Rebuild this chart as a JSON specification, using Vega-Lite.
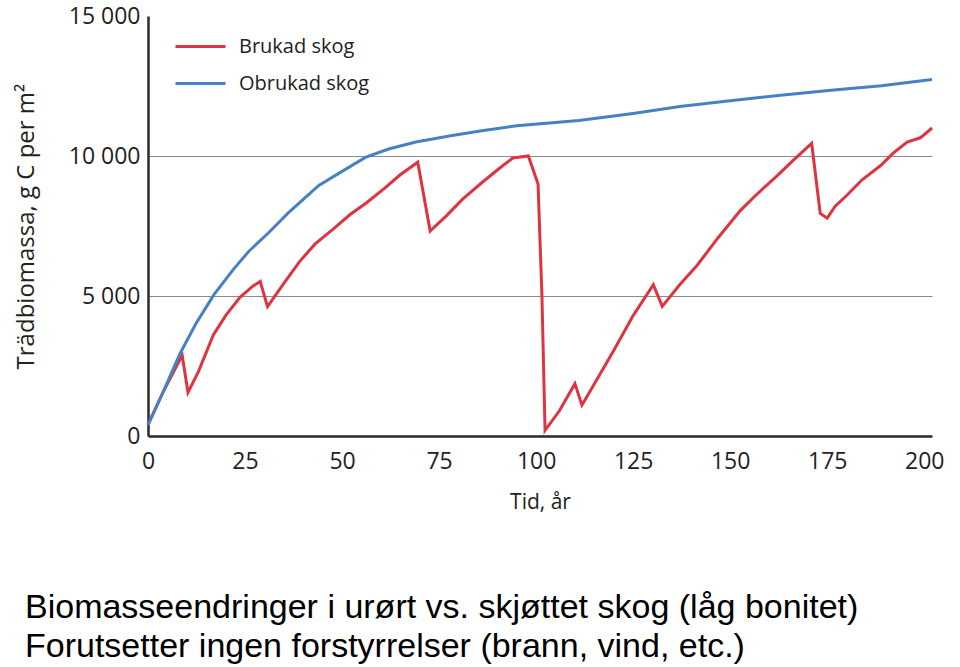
{
  "$schema": "https://vega.github.io/schema/vega-lite/v6.json",
  "autosize": {"type": "none"},
  "padding": {"left": 148, "top": 16, "right": 28, "bottom": 231},
  "width": 784,
  "height": 420,
  "background": "white",
  "title": {
    "text": ["Biomasseendringer i urørt vs. skjøttet skog (låg bonitet)", "Forutsetter ingen forstyrrelser (brann, vind, etc.)"],
    "orient": "bottom",
    "anchor": "start",
    "frame": "group",
    "dx": -123,
    "offset": 79,
    "font": "Liberation Sans",
    "fontSize": 34,
    "fontWeight": "normal",
    "lineHeight": 39,
    "color": "#000000"
  },
  "config": {
    "view": {"stroke": null},
    "font": "Open Sans"
  },
  "data": {
    "values": [
      {"t": 0, "v": 400, "s": "Brukad skog"},
      {"t": 4, "v": 1600, "s": "Brukad skog"},
      {"t": 8.8, "v": 2880, "s": "Brukad skog"},
      {"t": 10.3, "v": 1560, "s": "Brukad skog"},
      {"t": 13, "v": 2300, "s": "Brukad skog"},
      {"t": 16.8, "v": 3600, "s": "Brukad skog"},
      {"t": 20, "v": 4300, "s": "Brukad skog"},
      {"t": 23.7, "v": 4950, "s": "Brukad skog"},
      {"t": 27, "v": 5350, "s": "Brukad skog"},
      {"t": 28.9, "v": 5520, "s": "Brukad skog"},
      {"t": 30.8, "v": 4620, "s": "Brukad skog"},
      {"t": 35, "v": 5450, "s": "Brukad skog"},
      {"t": 39, "v": 6220, "s": "Brukad skog"},
      {"t": 43, "v": 6850, "s": "Brukad skog"},
      {"t": 47.7, "v": 7390, "s": "Brukad skog"},
      {"t": 52, "v": 7900, "s": "Brukad skog"},
      {"t": 56.4, "v": 8340, "s": "Brukad skog"},
      {"t": 61, "v": 8850, "s": "Brukad skog"},
      {"t": 65, "v": 9330, "s": "Brukad skog"},
      {"t": 69.5, "v": 9780, "s": "Brukad skog"},
      {"t": 72.7, "v": 7320, "s": "Brukad skog"},
      {"t": 77, "v": 7880, "s": "Brukad skog"},
      {"t": 81, "v": 8450, "s": "Brukad skog"},
      {"t": 85.6, "v": 9000, "s": "Brukad skog"},
      {"t": 90, "v": 9500, "s": "Brukad skog"},
      {"t": 94, "v": 9930, "s": "Brukad skog"},
      {"t": 98, "v": 10000, "s": "Brukad skog"},
      {"t": 100.5, "v": 9000, "s": "Brukad skog"},
      {"t": 101.5, "v": 5000, "s": "Brukad skog"},
      {"t": 102.3, "v": 200, "s": "Brukad skog"},
      {"t": 106, "v": 900, "s": "Brukad skog"},
      {"t": 110, "v": 1870, "s": "Brukad skog"},
      {"t": 111.8, "v": 1100, "s": "Brukad skog"},
      {"t": 116, "v": 2100, "s": "Brukad skog"},
      {"t": 120, "v": 3050, "s": "Brukad skog"},
      {"t": 125, "v": 4300, "s": "Brukad skog"},
      {"t": 130.2, "v": 5400, "s": "Brukad skog"},
      {"t": 132.5, "v": 4630, "s": "Brukad skog"},
      {"t": 137, "v": 5400, "s": "Brukad skog"},
      {"t": 141.5, "v": 6100, "s": "Brukad skog"},
      {"t": 147, "v": 7100, "s": "Brukad skog"},
      {"t": 152.6, "v": 8050, "s": "Brukad skog"},
      {"t": 157, "v": 8650, "s": "Brukad skog"},
      {"t": 162, "v": 9280, "s": "Brukad skog"},
      {"t": 166.5, "v": 9880, "s": "Brukad skog"},
      {"t": 171, "v": 10450, "s": "Brukad skog"},
      {"t": 173.2, "v": 7950, "s": "Brukad skog"},
      {"t": 175, "v": 7780, "s": "Brukad skog"},
      {"t": 177, "v": 8200, "s": "Brukad skog"},
      {"t": 180, "v": 8590, "s": "Brukad skog"},
      {"t": 184, "v": 9150, "s": "Brukad skog"},
      {"t": 188.7, "v": 9650, "s": "Brukad skog"},
      {"t": 192, "v": 10100, "s": "Brukad skog"},
      {"t": 195.6, "v": 10500, "s": "Brukad skog"},
      {"t": 199, "v": 10650, "s": "Brukad skog"},
      {"t": 202, "v": 11000, "s": "Brukad skog"},
      {"t": 0, "v": 400, "s": "Obrukad skog"},
      {"t": 4, "v": 1600, "s": "Obrukad skog"},
      {"t": 8.2, "v": 2930, "s": "Obrukad skog"},
      {"t": 12.5, "v": 4050, "s": "Obrukad skog"},
      {"t": 17, "v": 5050, "s": "Obrukad skog"},
      {"t": 22, "v": 5950, "s": "Obrukad skog"},
      {"t": 26, "v": 6600, "s": "Obrukad skog"},
      {"t": 31, "v": 7250, "s": "Obrukad skog"},
      {"t": 36, "v": 7950, "s": "Obrukad skog"},
      {"t": 40, "v": 8450, "s": "Obrukad skog"},
      {"t": 44, "v": 8950, "s": "Obrukad skog"},
      {"t": 50, "v": 9450, "s": "Obrukad skog"},
      {"t": 56, "v": 9950, "s": "Obrukad skog"},
      {"t": 62, "v": 10250, "s": "Obrukad skog"},
      {"t": 69, "v": 10500, "s": "Obrukad skog"},
      {"t": 78, "v": 10720, "s": "Obrukad skog"},
      {"t": 86, "v": 10900, "s": "Obrukad skog"},
      {"t": 95, "v": 11080, "s": "Obrukad skog"},
      {"t": 111, "v": 11270, "s": "Obrukad skog"},
      {"t": 125, "v": 11520, "s": "Obrukad skog"},
      {"t": 137, "v": 11770, "s": "Obrukad skog"},
      {"t": 150, "v": 11970, "s": "Obrukad skog"},
      {"t": 163, "v": 12170, "s": "Obrukad skog"},
      {"t": 176, "v": 12350, "s": "Obrukad skog"},
      {"t": 189, "v": 12510, "s": "Obrukad skog"},
      {"t": 202, "v": 12730, "s": "Obrukad skog"}
    ]
  },
  "mark": {"type": "line", "strokeWidth": 3},
  "encoding": {
    "x": {
      "field": "t",
      "type": "quantitative",
      "scale": {"domain": [0, 202], "nice": false, "zero": false},
      "axis": {
        "title": "Tid, år",
        "values": [0, 25, 50, 75, 100, 125, 150, 175, 200],
        "grid": false,
        "ticks": false,
        "labelFontSize": 23,
        "labelColor": "#222222",
        "labelPadding": 14,
        "labelFlush": false,
        "titleFontSize": 21,
        "titleFontWeight": "normal",
        "titleColor": "#222222",
        "titlePadding": 18,
        "domainColor": "#2a2a2a",
        "domainWidth": 2.5
      }
    },
    "y": {
      "field": "v",
      "type": "quantitative",
      "scale": {"domain": [0, 15000], "nice": false},
      "axis": {
        "title": "Trädbiomassa, g C per m²",
        "values": [0, 5000, 10000, 15000],
        "labelExpr": "replace(format(datum.value, ','), ',', ' ')",
        "grid": true,
        "gridColor": "#8a8a8a",
        "gridWidth": 1.2,
        "gridOpacity": {"condition": {"test": "datum.value === 0 || datum.value === 15000", "value": 0}, "value": 1},
        "ticks": false,
        "labelFontSize": 23,
        "labelColor": "#222222",
        "labelPadding": 8,
        "labelFlush": false,
        "titleFontSize": 24,
        "titleFontWeight": "normal",
        "titleColor": "#222222",
        "titlePadding": 30,
        "domainColor": "#2a2a2a",
        "domainWidth": 2.5
      }
    },
    "color": {
      "field": "s",
      "type": "nominal",
      "scale": {"domain": ["Brukad skog", "Obrukad skog"], "range": ["#dd3440", "#4682c3"]},
      "legend": {
        "title": null,
        "orient": "none",
        "legendX": 26,
        "legendY": 4,
        "symbolType": "stroke",
        "symbolSize": 2500,
        "symbolStrokeWidth": 3,
        "labelFontSize": 20,
        "labelColor": "#222222",
        "labelOffset": 12,
        "rowPadding": 0
      }
    }
  }
}
